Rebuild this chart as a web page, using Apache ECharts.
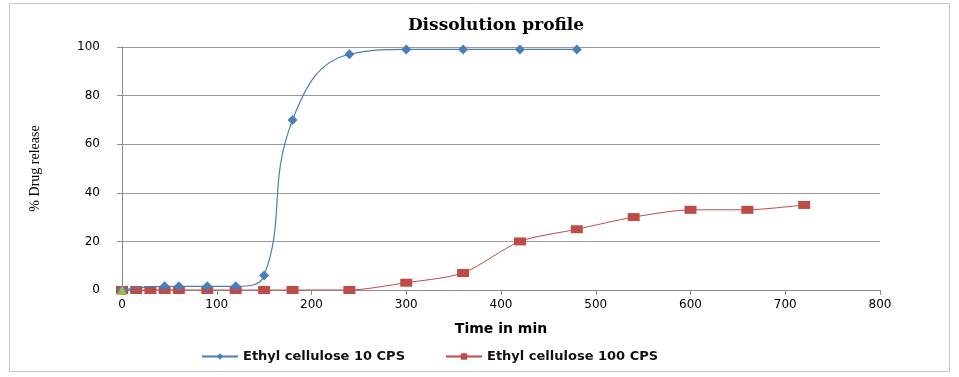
<!DOCTYPE html>
<html><head><meta charset="utf-8">
<script src="https://cdn.jsdelivr.net/npm/echarts@6/dist/echarts.min.js"></script>
<style>html,body{margin:0;padding:0;background:#fff}#c{width:959px;height:377px}</style>
</head><body><div id="c"></div>
<script>
const timeA = [0, 45, 60, 90, 120, 150, 180, 240, 300, 360, 420, 480];
const releaseA = [0, 1.5, 1.5, 1.5, 1.5, 6, 70, 97, 99, 99, 99, 99];
const timeB = [0, 15, 30, 45, 60, 90, 120, 150, 180, 240, 300, 360, 420, 480, 540, 600, 660, 720];
const releaseB = [0, 0, 0, 0, 0, 0, 0, 0, 0, 0, 3, 7, 20, 25, 30, 33, 33, 35];
const timeC = [0];
const releaseC = [0];
const nameA = 'Ethyl cellulose 10 CPS';
const nameB = 'Ethyl cellulose 100 CPS';

const chart = echarts.init(document.getElementById('c'));
chart.setOption({
  animation: false,
  backgroundColor: '#fff',
  graphic: [{type:'rect', shape:{x:9.5,y:3.5,width:940,height:368}, style:{fill:'none', stroke:'#c8c8c8', lineWidth:1}, silent:true}],
  title: {text: 'Dissolution profile', left: 491, top: 12, textAlign: 'center',
    textStyle: {fontFamily: 'DejaVu Serif', fontSize: 17, fontWeight: 'bold', color: '#000'}},
  legend: {data: [nameA, nameB], top: 345, left: 196, itemGap: 40, itemWidth: 36, itemHeight: 8,
    textStyle: {fontFamily: 'DejaVu Sans', fontSize: 13, fontWeight: 'bold', color: '#111'}},
  grid: {left: 122, right: 79, top: 47, bottom: 87},
  xAxis: {type: 'value', min: 0, max: 800, interval: 100,
    name: 'Time in min', nameLocation: 'middle', nameGap: 32,
    nameTextStyle: {fontFamily: 'DejaVu Sans', fontSize: 14, fontWeight: 'bold', color: '#000'},
    axisLine: {show: true, onZero: true, lineStyle: {color: '#8c8c8c'}},
    axisTick: {show: true, inside: false, length: 5, lineStyle: {color: '#8c8c8c'}},
    axisLabel: {fontFamily: 'DejaVu Sans', fontSize: 12, color: '#000', margin: 9},
    splitLine: {show: false}},
  yAxis: {type: 'value', min: 0, max: 100, interval: 20,
    name: '% Drug release', nameLocation: 'middle', nameGap: 80, nameRotate: 90,
    nameTextStyle: {fontFamily: 'Liberation Serif', fontSize: 14, color: '#000'},
    axisLine: {show: true, lineStyle: {color: '#8c8c8c'}},
    axisTick: {show: true, length: 5, lineStyle: {color: '#8c8c8c'}},
    axisLabel: {fontFamily: 'DejaVu Sans', fontSize: 12, color: '#000', margin: 22},
    splitLine: {show: true, lineStyle: {color: '#9a9a9a', width: 1}}},
  series: [
    {name: nameA, type: 'line', smooth: 0.45, data: timeA.map((t,i)=>[t, releaseA[i]]),
      symbol: 'diamond', symbolSize: 10, itemStyle: {color: '#4a7ebb'},
      lineStyle: {color: '#4a7ebb', width: 1.2}, z: 3},
    {name: nameB, type: 'line', smooth: 0.25, data: timeB.map((t,i)=>[t, releaseB[i]]),
      symbol: 'rect', symbolSize: [12, 8], itemStyle: {color: '#be4b48'},
      lineStyle: {color: '#be4b48', width: 1}, z: 2},
    {name: 'C', type: 'line', data: timeC.map((t,i)=>[t, releaseC[i]]),
      symbol: 'triangle', symbolSize: 10, itemStyle: {color: '#98b954'}, z: 4}
  ]
});
</script></body></html>
